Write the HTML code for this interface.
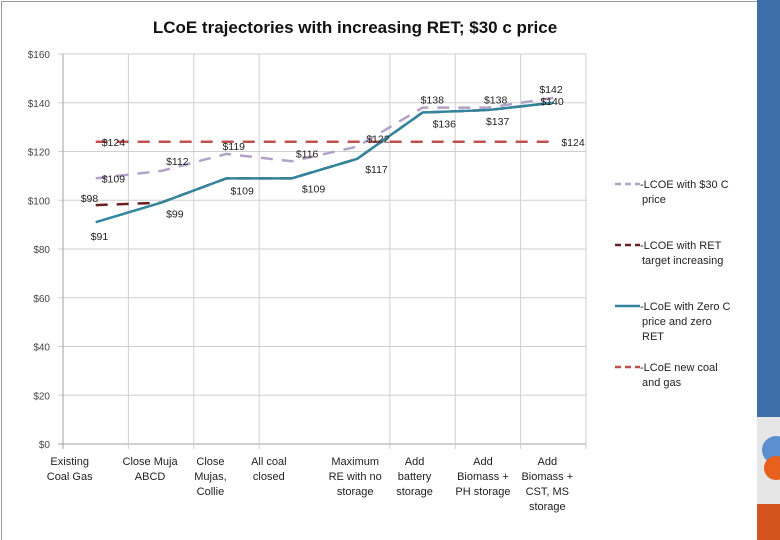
<!DOCTYPE html>
<html><head><meta charset="utf-8"><style>
body{margin:0;background:#fff;width:780px;height:540px;overflow:hidden;font-family:"Liberation Sans",sans-serif}
svg{position:absolute;left:0;top:0}
</style></head><body>
<svg id="c" width="780" height="540">
<rect x="0" y="0" width="780" height="540" fill="#fff"/>
<rect x="1.5" y="1.5" width="760" height="545" fill="none" stroke="#9a9a9a"/>
<rect x="757" y="0" width="23" height="417" fill="#3f6fa9"/>
<rect x="757" y="417" width="23" height="87" fill="#e6e6e6"/>
<circle cx="776" cy="450" r="14" fill="#5b8fd0"/>
<circle cx="776" cy="468" r="12" fill="#e8611c"/>
<rect x="757" y="504" width="23" height="36" fill="#d4531f"/>
<text x="355" y="33" text-anchor="middle" font-size="17" font-weight="bold" fill="#111">LCoE trajectories with increasing RET; $30 c price</text>
<g id="grid"></g><g id="series"></g><g id="labels"></g><g id="legend"></g>
</svg>
<script>
const categories=[["Existing","Coal Gas"],["Close Muja","ABCD"],["Close","Mujas,","Collie"],["All coal","closed"],["Maximum","RE with no","storage"],["Add","battery","storage"],["Add","Biomass +","PH storage"],["Add","Biomass +","CST, MS","storage"]];
const carbon30=[109,112,119,116,122,138,138,142];
const retTarget=[98,99,109,109,117,136,137,140];
const zeroC=[91,99,109,109,117,136,137,140];
const newCoal=[124,124,124,124,124,124,124,124];
const yTicks=[0,20,40,60,80,100,120,140,160];
const NS="http://www.w3.org/2000/svg";
const X0=63,X1=586,Y0=444,Y1=54;
const cw=(X1-X0)/categories.length;
const xs=i=>X0+cw*(i+0.5);
const ys=v=>Y0-(v/160)*(Y0-Y1);
function mk(p,tag,attrs){const e=document.createElementNS(NS,tag);for(const k in attrs)e.setAttribute(k,attrs[k]);p.appendChild(e);return e;}
const grid=document.getElementById('grid');
yTicks.forEach(t=>{
 const l=mk(grid,'line',{x1:X0-5,x2:X1,y1:ys(t),y2:ys(t),stroke:t===0?'#a0a0a0':'#cfcfcf'});
 
 
 const tx=mk(grid,'text',{x:50,y:ys(t)+4,'text-anchor':'end','font-size':10,fill:'#444'});
 tx.textContent='$'+t;
 
 
});
for(let i=0;i<=categories.length;i++){
 if(i===4)continue;
 const x=X0+cw*i;
 const l=mk(grid,'line',{x1:x,x2:x,y1:Y1,y2:Y0+5,stroke:i===0?'#a0a0a0':'#cfcfcf'});
 
 
}
const lblOff=[-26,-11,-16,-23,-2,-8,-5,-6];
categories.forEach((c,i)=>{
 const t=mk(grid,'text',{x:xs(i)+lblOff[i],y:465,'text-anchor':'middle','font-size':11,fill:'#222'});
 
 
 c.forEach((s,j)=>{const ts=mk(t,'tspan',{x:xs(i)+lblOff[i],dy:j?15:0});ts.textContent=s;});
});
const ser=document.getElementById('series');
function line(vals,color,w,dash,name){
 const p=mk(ser,'polyline',{points:vals.map((v,i)=>xs(i)+','+ys(v)).join(' '),fill:'none',stroke:color,'stroke-width':w,'stroke-dasharray':dash});
 
 
}
line(newCoal,'#c0504d',2.5,'12,9','series-new-coal-gas');
line(carbon30,'#b3a2c7',2.5,'12,9','series-30c-price');
line(retTarget,'#6b2020',2.5,'12,9','series-ret-target');
line(zeroC,'#31859c',2.5,'','series-zero-c');
const lab=document.getElementById('labels');
function labels(vals,dx,dy,name,only){
 vals.forEach((v,i)=>{
  if(only&&!only.includes(i))return;
  const t=mk(lab,'text',{x:xs(i)+dx[i],y:ys(v)+dy[i],'font-size':10.5,fill:'#222'});
  t.textContent='$'+v;
  
  
 });
}
labels(carbon30,[6,5,-4,4,9,-2,-4,-14],[4,-6,-4,-4,-4,-4,-4,-5],'label-30c');
labels(retTarget,[-15,0,0,0,0,0,0,0],[-3,0,0,0,0,0,0,0],'label-ret',[0]);
labels(zeroC,[-5,5,4,10,8,10,-2,-13],[18,15,16,14,14,15,15,2],'label-zero-c');
labels(newCoal,[6,0,0,0,0,0,0,8],[4,0,0,0,0,0,0,4],'label-new-coal',[0,7]);
const leg=document.getElementById('legend');
const items=[["#b3a2c7","6,4",["LCOE with $30 C","price"],188],["#6b2020","6,4",["LCOE with RET","target increasing"],249],["#31859c","",["LCoE with Zero C","price and zero","RET"],310],["#c0504d","6,4",["LCoE new coal","and gas"],371]];
items.forEach(it=>{
 const g=mk(leg,'g',{});
 
 
 mk(g,'line',{x1:615,x2:640,y1:it[3]-4,y2:it[3]-4,stroke:it[0],'stroke-width':2.5,'stroke-dasharray':it[1]});
 const t=mk(g,'text',{x:642,y:it[3],'font-size':11,fill:'#222'});
 it[2].forEach((s,j)=>{const ts=mk(t,'tspan',{x:j?642:640,dy:j?15:0});ts.textContent=(j?'':'-')+s;});
});
</script>
</body></html>
